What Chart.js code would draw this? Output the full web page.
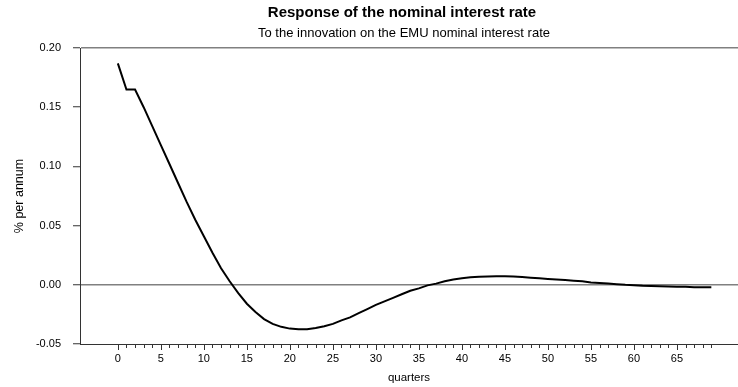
<!DOCTYPE html>
<html><head><meta charset="utf-8">
<script src="https://cdn.jsdelivr.net/npm/chart.js@4/dist/chart.umd.min.js"></script>
<style>html,body{margin:0;padding:0;background:#fff}#wrap{width:738px;height:387px}</style>
</head><body><div id="wrap"><canvas id="c" width="738" height="387"></canvas></div>
<script>
const titleText = "Response of the nominal interest rate";
const subtitleText = "To the innovation on the EMU nominal interest rate";
const yAxisLabel = "% per annum";
const xAxisLabel = "quarters";

const quarters = [0,1,2,3,4,5,6,7,8,9,10,11,12,13,14,15,16,17,18,19,20,21,22,23,24,25,26,27,28,29,30,31,32,33,34,35,36,37,38,39,40,41,42,43,44,45,46,47,48,49,50,51,52,53,54,55,56,57,58,59,60,61,62,63,64,65,66,67,68,69];
const response = [0.187,0.165,0.165,0.150,0.134,0.118,0.102,0.086,0.070,0.055,
  0.041,0.027,0.014,0.003,-0.007,-0.016,-0.023,-0.029,-0.033,-0.0355,
  -0.037,-0.0375,-0.0375,-0.0365,-0.035,-0.033,-0.030,-0.0275,-0.024,-0.0205,
  -0.017,-0.014,-0.011,-0.008,-0.005,-0.003,-0.0005,0.001,0.003,0.0045,
  0.0055,0.0063,0.0068,0.007,0.0072,0.0072,0.0071,0.0065,0.006,0.0055,
  0.005,0.0045,0.004,0.0035,0.003,0.002,0.0015,0.001,0.0005,0.0,
  -0.0003,-0.0008,-0.001,-0.0013,-0.0015,-0.0016,-0.0017,-0.002,-0.002,-0.002];
const yTicks = [-0.05,0.00,0.05,0.10,0.15,0.20];
const xMajorTicks = [0,5,10,15,20,25,30,35,40,45,50,55,60,65];

const FONT = '"Liberation Sans", Arial, sans-serif';

const decor = {
  id: 'decor',
  afterDraw(chart) {
    const ctx = chart.ctx, ca = chart.chartArea, xs = chart.scales.x;
    ctx.save();
    ctx.strokeStyle = '#333';
    ctx.lineWidth = 1;
    quarters.forEach(q => {
      const px = Math.round(xs.getPixelForValue(q)) + 0.5;
      const len = xMajorTicks.includes(q) ? 6 : 4;
      ctx.beginPath();
      ctx.moveTo(px, ca.bottom);
      ctx.lineTo(px, ca.bottom + len);
      ctx.stroke();
    });
    ctx.fillStyle = '#000';
    ctx.textAlign = 'center';
    ctx.textBaseline = 'middle';
    ctx.font = 'bold 15px ' + FONT;
    ctx.fillText(titleText, 402, 13);
    ctx.font = '13px ' + FONT;
    ctx.fillText(subtitleText, 404, 33);
    ctx.font = '11.5px ' + FONT;
    ctx.fillText(xAxisLabel, (ca.left + ca.right) / 2, 378);
    ctx.font = '12.5px ' + FONT;
    ctx.translate(20, (ca.top + ca.bottom) / 2);
    ctx.rotate(-Math.PI / 2);
    ctx.fillText(yAxisLabel, 0, 0);
    ctx.restore();
  }
};

new Chart(document.getElementById('c'), {
  type: 'line',
  data: {
    datasets: [{
      data: quarters.map((q, i) => ({x: q, y: response[i]})),
      borderColor: '#000',
      borderWidth: 2,
      pointRadius: 0,
      tension: 0,
      fill: false
    }]
  },
  options: {
    responsive: false,
    devicePixelRatio: 1,
    animation: false,
    layout: {padding: {top: 48, right: 0, bottom: 0, left: 0}},
    plugins: {legend: {display: false}, tooltip: {enabled: false}, title: {display: false}},
    scales: {
      x: {
        type: 'linear',
        min: -4.4,
        max: 72.1,
        afterBuildTicks: s => { s.ticks = quarters.map(v => ({value: v})); },
        afterFit: s => { s.height = 43; },
        grid: {display: false, drawTicks: false},
        border: {display: true, color: '#333', width: 1},
        ticks: {
          autoSkip: false, maxRotation: 0, minRotation: 0, padding: 8,
          color: '#000', font: {size: 11, family: FONT},
          callback: v => xMajorTicks.includes(v) ? String(v) : ''
        }
      },
      y: {
        min: -0.05,
        max: 0.20,
        afterBuildTicks: s => { s.ticks = yTicks.map(v => ({value: v})); },
        afterFit: s => { s.width = 80; },
        grid: {
          drawOnChartArea: true,
          color: c => (Math.abs(c.tick.value) < 1e-9 || Math.abs(c.tick.value - 0.2) < 1e-9) ? '#808080' : 'rgba(0,0,0,0)',
          lineWidth: 1.5,
          tickColor: '#333',
          tickWidth: 1,
          tickLength: 7
        },
        border: {display: true, color: '#333', width: 1},
        ticks: {
          padding: 12, color: '#000', font: {size: 11, family: FONT},
          callback: v => v.toFixed(2)
        }
      }
    }
  },
  plugins: [decor]
});
</script></body></html>
